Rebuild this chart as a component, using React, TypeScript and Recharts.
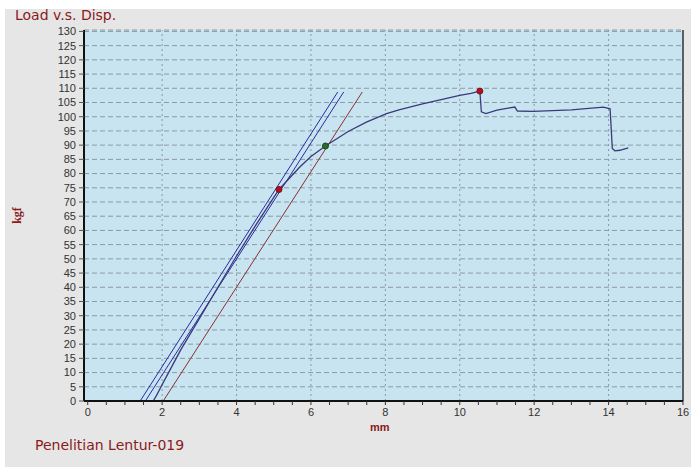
import React from "react";
import {
  LineChart,
  Line,
  XAxis,
  YAxis,
  CartesianGrid,
  ReferenceLine,
  ReferenceDot,
} from "recharts";

// load vs displacement curve (mm, kgf)
const curveX = [
  0, 1.76, 1.85, 1.95, 2.05, 2.5, 3, 3.5, 4, 4.5, 5.14, 5.7, 6, 6.39, 7, 7.49,
  8.03, 8.39, 9, 9.5, 10, 10.3, 10.54, 10.58, 10.7, 11, 11.3, 11.48, 11.55,
  11.97, 13, 13.86, 14.04, 14.1, 14.17, 14.3, 14.53,
];
const curveY = [
  0, 0, 2, 4.5, 7, 18, 29, 40, 51, 61.5, 74.4, 82.3, 86, 89.7, 94.8, 98.1,
  101.1, 102.5, 104.5, 106, 107.5, 108.2, 109, 101.7, 101.1, 102.3, 103, 103.4,
  102, 101.9, 102.4, 103.4, 102.8, 88.8, 88, 88.2, 89,
];

// straight fit lines
const blueLineA = [
  { x: 1.41, y: 0 },
  { x: 6.72, y: 108.7 },
];
const blueLineB = [
  { x: 1.55, y: 0 },
  { x: 6.88, y: 108.7 },
];
const brownLine = [
  { x: 2.03, y: 0 },
  { x: 7.38, y: 108.7 },
];

// marked points
const redPoints = [
  { x: 5.14, y: 74.4 },
  { x: 10.54, y: 109 },
];
const greenPoints = [{ x: 6.39, y: 89.7 }];

const xMajor = [0, 2, 4, 6, 8, 10, 12, 14, 16];
const xTicks = [
  0, 0.5, 1, 1.5, 2, 2.5, 3, 3.5, 4, 4.5, 5, 5.5, 6, 6.5, 7, 7.5, 8, 8.5, 9,
  9.5, 10, 10.5, 11, 11.5, 12, 12.5, 13, 13.5, 14, 14.5, 15, 15.5, 16,
];
const yTicks = [
  0, 5, 10, 15, 20, 25, 30, 35, 40, 45, 50, 55, 60, 65, 70, 75, 80, 85, 90, 95,
  100, 105, 110, 115, 120, 125, 130,
];

const curve = curveX.map((x, i) => ({ x, y: curveY[i] }));

const XTick = (props: any) => {
  const { x, y, payload } = props;
  const major = xMajor.includes(payload.value);
  return (
    <g>
      <line x1={x} x2={x} y1={y} y2={y + 4} stroke="#333" strokeWidth={1} />
      {major && (
        <text
          x={x}
          y={y + 15}
          textAnchor="middle"
          fontSize={11}
          fill="#333"
          fontFamily="Liberation Sans, Arial, sans-serif"
        >
          {payload.value}
        </text>
      )}
    </g>
  );
};

const dark = "#8b1a1a";

export default function App() {
  return (
    <div
      style={{
        position: "absolute",
        left: 0,
        top: 0,
        width: 691,
        height: 467,
        background: "#fff",
      }}
    >
      <div
        style={{
          position: "absolute",
          left: 5,
          top: 9,
          width: 686,
          height: 458,
          background: "#e6e6e6",
        }}
      />
      <div style={{ position: "absolute", left: 0, top: 0 }}>
        <LineChart
          width={691}
          height={467}
          margin={{ top: 30, right: 8, left: 0, bottom: 0 }}
        >
          <CartesianGrid
            vertical={false}
            fill="#c8e4f0"
            stroke="#8a9aa6"
            strokeDasharray="5 3"
          />
          <XAxis
            type="number"
            dataKey="x"
            domain={[-0.1, 16]}
            ticks={xTicks}
            interval={0}
            allowDataOverflow
            height={66}
            tickSize={0}
            tickMargin={0}
            tick={<XTick />}
            axisLine={{ stroke: "#111", strokeWidth: 2 }}
          />
          <YAxis
            type="number"
            dataKey="y"
            domain={[0, 130.5]}
            ticks={yTicks}
            interval={0}
            allowDataOverflow
            width={84}
            tickSize={5}
            tickMargin={3}
            tick={{
              fontSize: 11,
              fill: "#333",
              fontFamily: "Liberation Sans, Arial, sans-serif",
            }}
            tickLine={{ stroke: "#555" }}
            axisLine={{ stroke: "#111", strokeWidth: 2 }}
          />
          {xMajor.slice(1, -1).map((v) => (
            <ReferenceLine
              key={v}
              x={v}
              stroke="#8a9aa6"
              strokeDasharray="2 3"
            />
          ))}
          <ReferenceLine x={16} stroke="#333" strokeWidth={1.5} />
          <Line
            data={blueLineA}
            dataKey="y"
            stroke="#2a2aa0"
            dot={false}
            strokeWidth={1}
            isAnimationActive={false}
          />
          <Line
            data={blueLineB}
            dataKey="y"
            stroke="#2a2aa0"
            dot={false}
            strokeWidth={1}
            isAnimationActive={false}
          />
          <Line
            data={brownLine}
            dataKey="y"
            stroke="#8a3030"
            dot={false}
            strokeWidth={1}
            isAnimationActive={false}
          />
          <Line
            data={curve}
            dataKey="y"
            stroke="#3a3a7a"
            dot={false}
            strokeWidth={1.3}
            isAnimationActive={false}
          />
          {redPoints.map((p, i) => (
            <ReferenceDot
              key={"r" + i}
              x={p.x}
              y={p.y}
              r={3}
              fill="#b01020"
              stroke="#801018"
            />
          ))}
          {greenPoints.map((p, i) => (
            <ReferenceDot
              key={"g" + i}
              x={p.x}
              y={p.y}
              r={3}
              fill="#2a6a2a"
              stroke="#1a4a1a"
            />
          ))}
        </LineChart>
      </div>
      <div
        style={{
          position: "absolute",
          left: 15,
          top: 7,
          fontFamily: "DejaVu Sans, sans-serif",
          fontSize: 14,
          lineHeight: "17px",
          color: dark,
        }}
      >
        Load v.s. Disp.
      </div>
      <div
        style={{
          position: "absolute",
          left: 35,
          top: 437,
          fontFamily: "DejaVu Sans, sans-serif",
          fontSize: 14,
          color: dark,
        }}
      >
        Penelitian Lentur-019
      </div>
      <div
        style={{
          position: "absolute",
          left: 370,
          top: 421,
          fontFamily: "Liberation Sans, Arial, sans-serif",
          fontSize: 11,
          fontWeight: "bold",
          color: dark,
        }}
      >
        mm
      </div>
      <div
        style={{
          position: "absolute",
          left: 2,
          top: 208,
          width: 30,
          textAlign: "center",
          transform: "rotate(-90deg)",
          fontFamily: "Liberation Serif, serif",
          fontSize: 12,
          fontWeight: "bold",
          color: dark,
        }}
      >
        kgf
      </div>
    </div>
  );
}
